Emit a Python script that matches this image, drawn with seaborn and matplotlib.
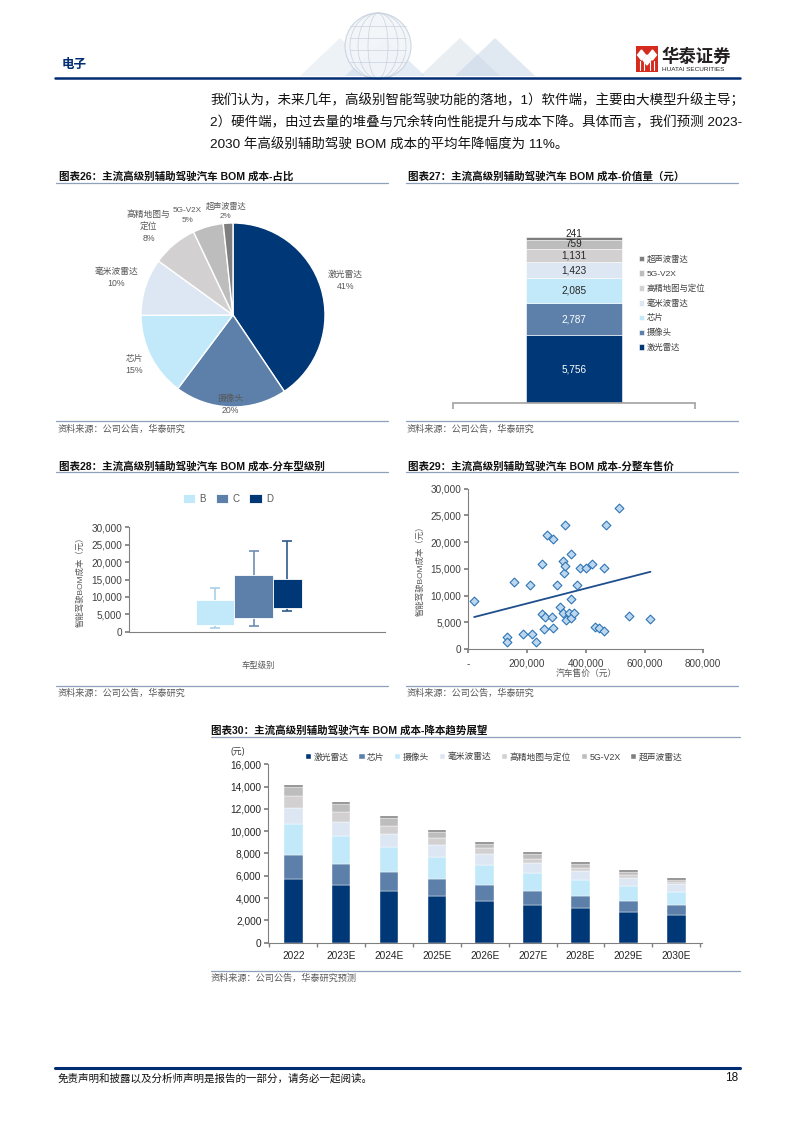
import matplotlib
matplotlib.use('Agg')
import matplotlib.pyplot as plt
import seaborn as sns
import numpy as np
import pandas as pd
from matplotlib.patches import Rectangle, Polygon, Circle, Ellipse
from matplotlib.ticker import FuncFormatter

# ---------------- data ----------------
# fig26 / fig27: BOM cost split (yuan)
parts = ['激光雷达', '摄像头', '芯片', '毫米波雷达', '高精地图与定位', '5G-V2X', '超声波雷达']
part_cost = [5756, 2787, 2085, 1423, 1131, 759, 241]

# fig28: by car level (drawn as boxes)
box_levels = ['B', 'C', 'D']
box_low = [1200, 1500, 6000]
box_q1 = [2000, 4000, 6800]
box_q3 = [9000, 16300, 15200]
box_high = [12500, 23300, 26200]

# fig29: car price vs BOM cost
car_price = [20000, 157000, 133000, 133000, 185000, 218000, 230000, 210000, 251000, 268000,
             290000, 251000, 261000, 258000, 286000, 290000, 301000, 311000, 321000, 325000,
             329000, 329000, 321000, 333000, 342000, 351000, 349000, 351000, 360000, 370000,
             379000, 400000, 420000, 431000, 446000, 461000, 461000, 470000, 514000, 548000,
             620000]
bom_cost = [8900, 12600, 2300, 1250, 2750, 2750, 1250, 11900, 15900, 21400,
            20500, 6500, 5900, 3800, 5900, 3900, 11900, 7800, 16500, 14200,
            15500, 23300, 6700, 5400, 6700, 17700, 9400, 5800, 6700, 11900,
            15100, 15100, 16000, 4200, 3900, 3400, 15100, 23300, 26300, 6100,
            5600]

# fig30: cost trend
years = ['2022', '2023E', '2024E', '2025E', '2026E', '2027E', '2028E', '2029E', '2030E']
trend_parts = ['激光雷达', '芯片', '摄像头', '毫米波雷达', '高精地图与定位', '5G-V2X', '超声波雷达']
lidar = [5756, 5170, 4660, 4220, 3770, 3410, 3080, 2780, 2480]
chip = [2085, 1890, 1710, 1520, 1400, 1220, 1110, 990, 900]
camera = [2787, 2480, 2240, 1980, 1800, 1650, 1460, 1310, 1200]
mmwave = [1423, 1320, 1140, 1070, 980, 870, 810, 750, 650]
hdmap = [1131, 890, 720, 630, 510, 390, 270, 210, 180]
v2x = [759, 720, 680, 540, 420, 380, 360, 300, 240]
ultra = [241, 180, 180, 140, 150, 180, 150, 150, 150]

colors = ['#003776', '#5C80A9', '#C2E9F9', '#DDE7F3', '#D2D0D0', '#BDBDBD', '#7F7F7F']
navy = '#002D72'
gray_txt = '#595959'
rule = '#8EA0BC'

sns.set_theme(style='white')
plt.rcParams['font.family'] = ['Liberation Sans', 'Noto Sans CJK SC']
plt.rcParams['axes.unicode_minus'] = False

W, H = 794, 1123
fig = plt.figure(figsize=(W / 100, H / 100), dpi=100)


def px_axes(l, t, w, h):
    return fig.add_axes([l / W, 1 - (t + h) / H, w / W, h / H])


def ft(x, y, s, **kw):
    kw.setdefault('va', 'center')
    fig.text(x / W, 1 - y / H, s, **kw)


comma = FuncFormatter(lambda v, p: f'{int(v):,}')

# ---------------- page decoration ----------------
deco = fig.add_axes([0, 0, 1, 1])
deco.set_xlim(0, W)
deco.set_ylim(H, 0)
deco.axis('off')
deco.patch.set_alpha(0)

# faint globe / chevrons in the header
for x0, c in [(300, '#DCE6F0'), (345, '#C9D8EA'), (420, '#D5DEE9'), (455, '#C3D3E6')]:
    deco.add_patch(Polygon([[x0, 76], [x0 + 40, 38], [x0 + 80, 76]], closed=True,
                           facecolor=c, edgecolor='none', alpha=0.5))
deco.add_patch(Circle((378, 46), 33, facecolor='#F2F5F9', edgecolor='#C8D2DE', lw=0.8, alpha=0.9))
for r in [10, 20, 28]:
    deco.add_patch(Ellipse((378, 46), r * 2, 66, facecolor='none', edgecolor='#C8D2DE', lw=0.5))
for dy in [-20, -8, 4, 16]:
    deco.plot([350, 406], [46 + dy, 46 + dy], color='#C8D2DE', lw=0.5)

deco.plot([55, 740], [78, 78], color=navy, lw=1.8)
ft(62, 65, '电子', fontsize=9, fontweight='bold', color=navy)

# logo
deco.add_patch(Rectangle((636, 46), 22, 26, facecolor='#D52B1E', edgecolor='none'))
for cx in [641.5, 652.5]:
    deco.add_patch(Polygon([[cx, 50], [cx + 4, 55], [cx, 60], [cx - 4, 55]], facecolor='white'))
deco.add_patch(Polygon([[647, 55], [651, 60], [647, 65], [643, 60]], facecolor='white'))
for xx in [640, 644, 650, 654]:
    deco.plot([xx, xx], [61, 70], color='white', lw=0.8)
ft(661, 56, '华泰证券', fontsize=12.5, fontweight='bold', color='#231F20')
ft(662, 69.5, 'HUATAI SECURITIES', fontsize=4.6, color='#231F20')

# paragraph
para = ['我们认为，未来几年，高级别智能驾驶功能的落地，1）软件端，主要由大模型升级主导；',
        '2）硬件端，由过去量的堆叠与冗余转向性能提升与成本下降。具体而言，我们预测 2023-',
        '2030 年高级别辅助驾驶 BOM 成本的平均年降幅度为 11%。']
for i, line in enumerate(para):
    ft(210, 100 + i * 22.5, line, fontsize=9.7, color='#111111')

# titles, rules, sources
titles = [(59, 176, '图表26：主流高级别辅助驾驶汽车 BOM 成本-占比'),
          (408, 176, '图表27：主流高级别辅助驾驶汽车 BOM 成本-价值量（元）'),
          (59, 466, '图表28：主流高级别辅助驾驶汽车 BOM 成本-分车型级别'),
          (408, 466, '图表29：主流高级别辅助驾驶汽车 BOM 成本-分整车售价'),
          (211, 730, '图表30：主流高级别辅助驾驶汽车 BOM 成本-降本趋势展望')]
for x, y, s in titles:
    ft(x, y, s, fontsize=7.6, fontweight='bold', color='#111111')

for x0, x1, y in [(56, 388, 183), (406, 738, 183), (56, 388, 421), (406, 738, 421),
                  (56, 388, 472), (406, 738, 472), (56, 388, 686), (406, 738, 686),
                  (211, 740, 737), (211, 740, 971)]:
    deco.plot([x0, x1], [y, y], color=rule, lw=0.9)

for x, y, s in [(58, 429.5, '资料来源：公司公告，华泰研究'), (407, 429.5, '资料来源：公司公告，华泰研究'),
                (58, 693.5, '资料来源：公司公告，华泰研究'), (407, 693.5, '资料来源：公司公告，华泰研究'),
                (211, 978.5, '资料来源：公司公告，华泰研究预测')]:
    ft(x, y, s, fontsize=6.6, color=gray_txt)

# footer
deco.plot([55, 740], [1068, 1068], color=navy, lw=2.2)
ft(58, 1078, '免责声明和披露以及分析师声明是报告的一部分，请务必一起阅读。', fontsize=7.6,
   color='#111111', style='italic')
ft(738, 1078, '18', fontsize=8.5, color='#111111', ha='right')

# ---------------- fig26: pie ----------------
ax = px_axes(141, 223, 184, 184)
wedges, texts = ax.pie(part_cost, colors=colors, startangle=90, counterclock=False,
                       wedgeprops=dict(edgecolor='white', linewidth=1.0),
                       labels=parts, textprops=dict(fontsize=6.3, color=gray_txt))
ax.set_xlim(-1, 1)
ax.set_ylim(-1, 1)
label_r = [1.28, 0.97, 1.2, 1.33, 1.33, 1.19, 1.13]
label_shift = [0, 0, 0, 0, 4, 9, 1]
total = sum(part_cost)
for w, t, r, sh, name, v in zip(wedges, texts, label_r, label_shift, parts, part_cost):
    ang = np.deg2rad((w.theta1 + w.theta2) / 2 + sh)
    name_txt = '高精地图与\n定位' if name == '高精地图与定位' else name
    t.set_text(f'{name_txt}\n{v / total:.0%}')
    t.set_position((r * np.cos(ang), r * np.sin(ang)))
    t.set_ha('center')
    t.set_va('center')
    t.set_multialignment('center')
    t.set_linespacing(1.45)
    if name in ('5G-V2X', '超声波雷达'):
        t.set_fontsize(5.9)
ax.set_aspect('equal')

# ---------------- fig27: stacked single bar ----------------
ax = px_axes(453, 215.7, 242, 187)
bottom = 0
for name, v, c in zip(parts, part_cost, colors):
    ax.bar(0, v, width=0.79, bottom=bottom, color=c, edgecolor='white', linewidth=0.4, label=name)
    if name == '超声波雷达':
        ax.text(0, bottom + v + 260, f'{v:,}', ha='center', va='center', fontsize=7.2, color='#262626')
    else:
        tc = 'white' if c in colors[:2] else '#262626'
        ax.text(0, bottom + v / 2, f'{v:,}', ha='center', va='center', fontsize=7.2, color=tc)
    bottom += v
ax.set_xlim(-1, 1)
ax.set_ylim(0, 16000)
for s in ['top', 'right', 'left']:
    ax.spines[s].set_visible(False)
ax.spines['bottom'].set_color('#A6A6A6')
ax.set_yticks([])
ax.set_xticks([-1, 1])
ax.set_xticklabels([])
ax.tick_params(axis='x', length=4, color='#A6A6A6', direction='out', bottom=True)
h, l = ax.get_legend_handles_labels()
fig.legend(h[::-1], l[::-1], loc='upper left', bbox_to_anchor=(631 / W, 1 - 248 / H),
           frameon=False, fontsize=6.0, handlelength=0.6, handleheight=0.6,
           handletextpad=0.35, labelspacing=0.78, labelcolor='#404040')

# ---------------- fig28: boxes by car level ----------------
ax = px_axes(129, 527.3, 256, 104.4)
pos = np.arange(len(box_levels))
widths = [1.0, 1.0, 0.74]
box_cols = ['#C2E9F9', '#5C80A9', '#003776']
whisk_cols = ['#A9CFE6', '#6E8DB3', '#2F5A8F']
for i, lev in enumerate(box_levels):
    ax.bar(pos[i] - 0.5, box_q3[i] - box_q1[i], width=widths[i], bottom=box_q1[i], align='edge',
           color=box_cols[i], edgecolor='white', linewidth=0.6, label=lev, zorder=3)
    cx = pos[i] - 0.5 + widths[i] / 2
    ax.vlines(cx, box_low[i], box_high[i], color=whisk_cols[i], lw=1.2, zorder=2)
    ax.hlines([box_low[i], box_high[i]], cx - 0.13, cx + 0.13, color=whisk_cols[i], lw=1.2, zorder=2)
ax.set_xlim(-2.23, 4.40)
ax.set_ylim(0, 30000)
ax.set_yticks(range(0, 30001, 5000))
ax.yaxis.set_major_formatter(comma)
ax.set_xticks([])
for s in ['top', 'right']:
    ax.spines[s].set_visible(False)
for s in ['left', 'bottom']:
    ax.spines[s].set_color('#808080')
    ax.spines[s].set_linewidth(0.8)
ax.tick_params(axis='y', labelsize=7.2, labelcolor='#404040', length=3, color='#808080', left=True, pad=2)
ax.set_ylabel('智能驾驶BOM成本（元）', fontsize=6, color='#595959', labelpad=5)
ax.legend(loc='center', bbox_to_anchor=((228 - 129) / 256, (631.7 - 499) / 104.4), ncol=3,
          frameon=False, fontsize=7, handlelength=1.25, handleheight=1.0,
          handletextpad=0.5, columnspacing=1.0, labelcolor='#595959')
ft(258, 666, '车型级别', fontsize=6, color='#595959', ha='center')

# ---------------- fig29: scatter ----------------
ax = px_axes(468.3, 488.7, 235, 160.3)
df = pd.DataFrame({'price': car_price, 'bom': bom_cost})
sns.regplot(data=df, x='price', y='bom', scatter=False, ci=None, truncate=True, ax=ax,
            line_kws=dict(color='#1F4E8C', lw=1.3))
sns.scatterplot(data=df, x='price', y='bom', marker='D', s=20, color='#BDD7EE',
                edgecolor='#2E75B6', linewidth=0.8, ax=ax, zorder=3)
ax.set_xlim(0, 800000)
ax.set_ylim(0, 30000)
ax.set_xticks(range(0, 800001, 200000))
ax.set_xticklabels(['-'] + [f'{v:,}' for v in range(200000, 800001, 200000)])
ax.set_yticks(range(0, 30001, 5000))
ax.yaxis.set_major_formatter(comma)
for s in ['top', 'right']:
    ax.spines[s].set_visible(False)
for s in ['left', 'bottom']:
    ax.spines[s].set_color('#808080')
    ax.spines[s].set_linewidth(0.8)
ax.tick_params(axis='both', labelsize=7.2, labelcolor='#404040', length=3, color='#808080',
               left=True, bottom=True, pad=2)
ax.tick_params(axis='x', pad=4)
ax.set_xlabel('汽车售价（元）', fontsize=6.3, color='#595959', labelpad=0)
ax.set_ylabel('智能驾驶BOM成本（元）', fontsize=6, color='#595959', labelpad=4)

# ---------------- fig30: stacked trend bars ----------------
ax = px_axes(268.3, 764.3, 433.4, 178.4)
series = [lidar, chip, camera, mmwave, hdmap, v2x, ultra]
x = np.arange(len(years))
bottom = np.zeros(len(years))
for name, vals, c in zip(trend_parts, series, colors):
    ax.bar(x, vals, width=0.39, bottom=bottom, color=c, edgecolor='white', linewidth=0.3, label=name)
    bottom += np.array(vals)
ax.set_xlim(-0.52, 8.53)
ax.set_ylim(0, 16000)
ax.set_yticks(range(0, 16001, 2000))
ax.yaxis.set_major_formatter(comma)
ax.set_xticks(x)
ax.set_xticklabels(years)
ax.set_xticks(np.arange(-0.5, 9, 1), minor=True)
for s in ['top', 'right']:
    ax.spines[s].set_visible(False)
for s in ['left', 'bottom']:
    ax.spines[s].set_color('#808080')
    ax.spines[s].set_linewidth(0.8)
ax.tick_params(axis='y', labelsize=7.3, labelcolor='#262626', length=3, color='#808080', left=True, pad=2)
ax.tick_params(axis='x', which='major', labelsize=7.3, labelcolor='#262626', length=0, pad=6)
ax.tick_params(axis='x', which='minor', length=3, color='#808080', bottom=True)
ft(237.5, 751.5, '(元)', fontsize=6.3, color='#404040', ha='center')
h, l = ax.get_legend_handles_labels()
fig.legend(h, l, loc='center left', bbox_to_anchor=(298 / W, 1 - 757 / H), ncol=7,
           frameon=False, fontsize=6.3, handlelength=0.6, handleheight=0.6,
           handletextpad=0.3, columnspacing=1.2, labelcolor='#404040')

fig.savefig('out.png', dpi=100)
